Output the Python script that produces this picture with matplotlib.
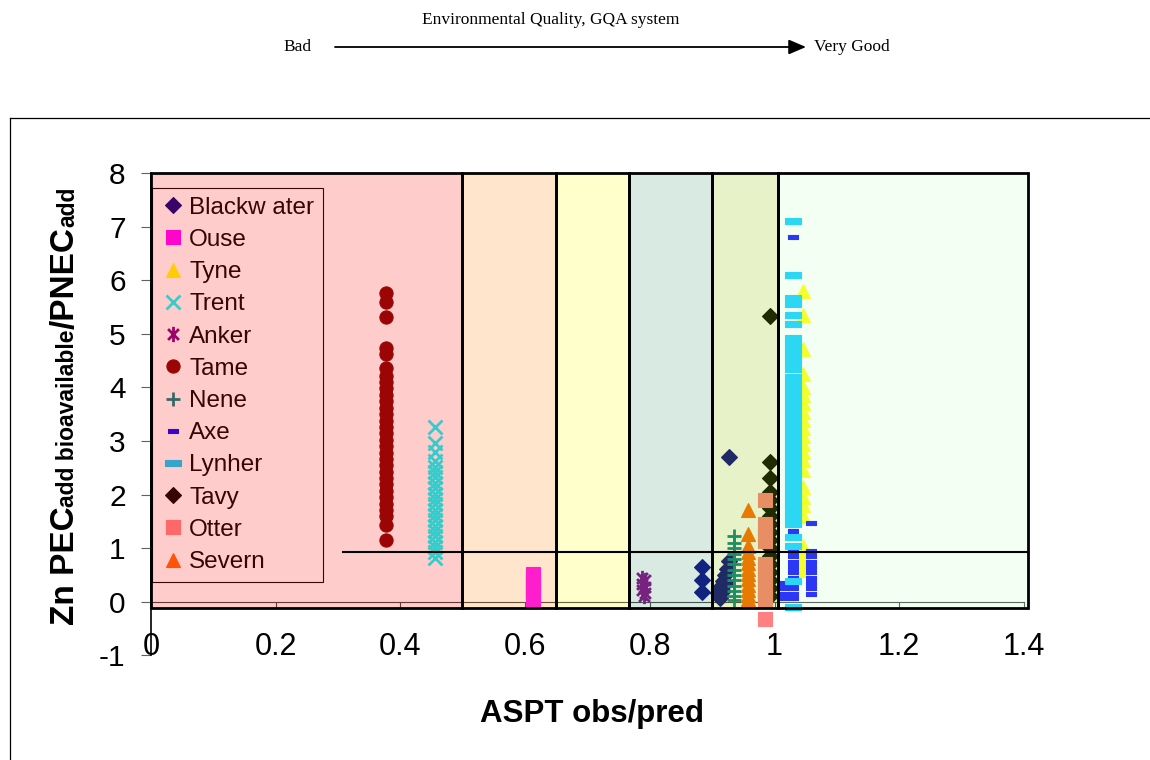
import numpy as np
import matplotlib
matplotlib.use("Agg")
import matplotlib.pyplot as plt
from matplotlib.patches import Rectangle, FancyArrowPatch
from matplotlib.path import Path
from matplotlib.lines import Line2D

plt.rcParams['font.family'] = ['Liberation Sans', 'DejaVu Sans']
plt.rcParams['axes.unicode_minus'] = False

# ---------------- data ----------------
blackwater_x = [0.884, 0.884, 0.884, 0.927, 0.927, 0.924, 0.920, 0.917, 0.913, 0.910, 0.912, 0.918, 0.922]
blackwater_y = [0.65, 0.41, 0.19, 2.70, 0.76, 0.62, 0.50, 0.38, 0.27, 0.16, 0.08, 0.20, 0.35]

ouse_x = 0.612
ouse_y = [0.52, 0.46, 0.40, 0.34, 0.28, 0.22, 0.16, 0.10, 0.06]

tyne_x = 1.045
tyne_y = [5.80, 5.35, 4.72, 4.25, 4.00, 3.85, 3.70, 3.55, 3.40, 3.25, 3.10, 2.95, 2.80,
          2.65, 2.45, 2.15, 1.95, 1.80, 1.60, 1.05, 0.90, 0.75, 0.60]

trent_x = 0.455
trent_y = [3.27, 2.96, 2.80, 2.62, 2.52, 2.42, 2.32, 2.22, 2.12, 2.02, 1.92, 1.82, 1.72,
           1.62, 1.52, 1.42, 1.32, 1.22, 1.12, 1.02, 0.93, 0.82]

anker_x = [0.787, 0.792, 0.787, 0.792, 0.787, 0.792, 0.790]
anker_y = [0.45, 0.40, 0.34, 0.28, 0.22, 0.16, 0.11]

tame_x = 0.377
tame_y = [5.77, 5.60, 5.32, 4.74, 4.63, 4.37, 4.22, 4.10, 3.98, 3.86, 3.74, 3.62, 3.50,
          3.38, 3.26, 3.14, 3.02, 2.90, 2.78, 2.66, 2.56, 2.43, 2.31, 2.19, 2.07, 1.95,
          1.83, 1.71, 1.60, 1.44, 1.16]

nene_x = 0.935
nene_y = [1.22, 1.10, 1.00, 0.90, 0.80, 0.70, 0.60, 0.50, 0.40, 0.30, 0.20, 0.10, 0.03]

axe_x = [1.030, 1.030, 1.030, 1.030, 1.030, 1.030, 1.030, 1.030, 1.030, 1.030, 1.030, 1.030, 1.030,
         1.058, 1.058, 1.058, 1.058, 1.058, 1.058, 1.058, 1.058, 1.058, 1.058,
         1.016, 1.016, 1.016, 1.016]
axe_y = [6.81, 1.44, 1.33, 0.95, 0.85, 0.75, 0.65, 0.55, 0.45, 0.35, 0.25, 0.15, 0.08,
         1.47, 0.95, 0.85, 0.75, 0.65, 0.55, 0.45, 0.35, 0.25, 0.15,
         0.35, 0.25, 0.15, 0.08]

lynher_x = 1.029
lynher_y = [7.10, 6.09, 5.66, 5.55, 5.35, 5.18, 4.93, 4.84, 4.75, 4.64, 4.54, 4.44, 4.34,
            4.19, 4.10, 4.00, 3.91, 3.81, 3.72, 3.62, 3.53, 3.44, 3.36, 3.28, 3.20, 3.12,
            3.04, 2.96, 2.88, 2.80, 2.72, 2.64, 2.56, 2.48, 2.40, 2.32, 2.24, 2.16, 2.08,
            2.00, 1.92, 1.84, 1.76, 1.64, 1.55, 1.46, 1.20, 1.05, 0.39, -0.09]

tavy_x = 0.993
tavy_y = [5.33, 2.61, 2.31, 2.05, 1.90, 1.75, 1.60, 1.45, 1.30, 1.15, 1.00, 0.85, 0.70,
          0.55, 0.40, 0.25, 0.10]

otter_x = 0.984
otter_y = [1.90, 1.45, 1.35, 1.25, 1.14, 0.70, 0.60, 0.50, 0.40, 0.30, 0.20, 0.10, 0.04, -0.33]

severn_x = 0.957
severn_y = [1.72, 1.27, 1.05, 0.92, 0.82, 0.72, 0.62, 0.52, 0.42, 0.32, 0.22, 0.12, 0.05]

zone_edges = [0.0, 0.499, 0.650, 0.766, 0.899, 1.005, 1.406]
zone_colors = [(1.0, 0.09, 0.09), (1.0, 0.54, 0.09), (1.0, 1.0, 0.09),
               (0.31, 0.64, 0.48), (0.59, 0.77, 0.02), (0.80, 1.0, 0.80)]
zone_alpha = 0.22
zone_bottom, zone_top = -0.11, 8.0
threshold_y = 0.93
threshold_x0, threshold_x1 = 0.307, 1.406

x_ticks = [0, 0.2, 0.4, 0.6, 0.8, 1.0, 1.2, 1.4]
x_tick_labels = ["0", "0.2", "0.4", "0.6", "0.8", "1", "1.2", "1.4"]
y_ticks = [-1, 0, 1, 2, 3, 4, 5, 6, 7, 8]

# ---------------- figure ----------------
W, H = 1150, 760
fig = plt.figure(figsize=(W / 100, H / 100), dpi=100)
fig.patch.set_facecolor('white')

def fx(px):
    return px / W

def fy(py):
    return 1 - py / H

x0px, x1px = 151, 151 + 1.4 * 623.5
y_top_px, y_bot_px = 173, 173 + 9 * 53.6
ax = fig.add_axes([fx(x0px), fy(y_bot_px), (x1px - x0px) / W, (y_bot_px - y_top_px) / H])
ax.set_xlim(0, 1.4)
ax.set_ylim(-1, 8)
ax.set_facecolor('white')

# markers
asterisk = Path([(-0.85, -0.85), (0.85, 0.85), (-0.85, 0.85), (0.85, -0.85), (0, -1.2), (0, 1.2)],
                [Path.MOVETO, Path.LINETO, Path.MOVETO, Path.LINETO, Path.MOVETO, Path.LINETO])
short_dash = [(-0.5, -0.2), (0.5, -0.2), (0.5, 0.2), (-0.5, 0.2), (-0.5, -0.2)]
long_dash = [(-0.5, -0.15), (0.5, -0.15), (0.5, 0.15), (-0.5, 0.15), (-0.5, -0.15)]

def as_list(x, y):
    if np.isscalar(x):
        return np.full(len(y), x), y
    return x, y

series = [
    ("Blackw ater", blackwater_x, blackwater_y, dict(marker='D', ms=7.8, color='#000080')),
    ("Ouse", ouse_x, ouse_y, dict(marker='s', ms=9.8, color='#FF00FF')),
    ("Tyne", tyne_x, tyne_y, dict(marker='^', ms=10.5, color='#FFFF00')),
    ("Trent", trent_x, trent_y, dict(marker='x', ms=10, mew=2.0, color='#00FFFF')),
    ("Anker", anker_x, anker_y, dict(marker=asterisk, ms=11, mew=2.0, color='#800080', mfc='none')),
    ("Tame", tame_x, tame_y, dict(marker='o', ms=9.5, color='#800000')),
    ("Nene", nene_x, nene_y, dict(marker='+', ms=10, mew=2.0, color='#008080')),
    ("Axe", axe_x, axe_y, dict(marker=short_dash, ms=7.2, color='#0000FF')),
    ("Lynher", lynher_x, lynher_y, dict(marker=long_dash, ms=12.2, color='#00CCFF')),
    ("Tavy", tavy_x, tavy_y, dict(marker='D', ms=7.8, color='#000000')),
    ("Otter", otter_x, otter_y, dict(marker='s', ms=10.5, color='#FF8080')),
    ("Severn", severn_x, severn_y, dict(marker='^', ms=10.5, color='#FF6600')),
]
for name, xs, ys, st in series:
    xs, ys = as_list(xs, ys)
    kw = dict(linestyle='none', label=name, zorder=3, mew=st.pop('mew', 0.8))
    kw.update(st)
    ax.plot(xs, ys, **kw)

# translucent quality zones drawn on top (as in the original overlay)
for i in range(len(zone_colors)):
    ax.add_patch(Rectangle((zone_edges[i], zone_bottom), zone_edges[i + 1] - zone_edges[i],
                           zone_top - zone_bottom, facecolor=zone_colors[i] + (zone_alpha,),
                           edgecolor='none', zorder=10, clip_on=False))
for i in range(len(zone_colors)):
    ax.add_patch(Rectangle((zone_edges[i], zone_bottom), zone_edges[i + 1] - zone_edges[i],
                           zone_top - zone_bottom, facecolor='none',
                           edgecolor='black', lw=2.0, zorder=11, clip_on=False))
ax.plot([threshold_x0, threshold_x1], [threshold_y, threshold_y], color='black', lw=1.5,
        zorder=12, clip_on=False, solid_capstyle='butt')

# axes styling
for s in ['top', 'right']:
    ax.spines[s].set_visible(False)
ax.spines['bottom'].set_position(('data', 0))
ax.spines['bottom'].set_color('#404040')
ax.spines['bottom'].set_linewidth(0.8)
ax.spines['left'].set_color('black')
ax.spines['left'].set_linewidth(1.2)
ax.set_xticks(x_ticks)
ax.set_xticklabels(x_tick_labels)
ax.set_yticks(y_ticks)
ax.tick_params(axis='x', direction='out', length=3.6, width=0.8, color='#404040',
               labelsize=22, pad=18)
ax.tick_params(axis='y', direction='out', length=7.2, width=0.8, color='#606060',
               labelsize=21.5, pad=11)

leg = ax.legend(loc='upper left', bbox_to_anchor=(0.001, 0.969), borderaxespad=0,
                fontsize=17.5, frameon=True, fancybox=False, edgecolor='black',
                facecolor='white', framealpha=1, borderpad=0.36, labelspacing=0.42,
                handlelength=1.0, handletextpad=0.18, numpoints=1)
leg.get_frame().set_linewidth(0.8)
leg.set_zorder(5)

# header
fig.text(fx(551), fy(20), "Environmental Quality, GQA system", family='Liberation Serif',
         fontsize=12.5, ha='center', va='center')
fig.text(fx(283), fy(47), "Bad", family='Liberation Serif', fontsize=12.5, ha='left', va='center')
fig.text(fx(814), fy(47), "Very Good", family='Liberation Serif', fontsize=12.5, ha='left', va='center')
fig.add_artist(FancyArrowPatch((fx(335), fy(47)), (fx(806), fy(47)), transform=fig.transFigure,
                               arrowstyle='-|>,head_length=0.7,head_width=0.3',
                               mutation_scale=15, lw=1.3, color='black', shrinkA=0, shrinkB=0))

# frame around chart area
fig.add_artist(Line2D([fx(10), 1.0], [fy(118), fy(118)], transform=fig.transFigure,
                      color='black', lw=0.9))
fig.add_artist(Line2D([fx(10), fx(10)], [fy(118), 0.0], transform=fig.transFigure,
                      color='black', lw=0.9))

# axis titles
fig.text(fx(592), fy(714), "ASPT obs/pred", fontsize=22.5, fontweight='bold',
         ha='center', va='center')

renderer = fig.canvas.get_renderer()
pieces = [("Zn PEC", 24), ("add bioavailable", 16.5), ("/PNEC", 24), ("add", 16.5)]
lengths = []
for s, size in pieces:
    t = fig.text(0, 0, s, fontsize=size, fontweight='bold', rotation=90,
                 rotation_mode='anchor', ha='left', va='baseline')
    lengths.append(t.get_window_extent(renderer).height)
    t.remove()
ypos = 406 + sum(lengths) / 2
for (s, size), L in zip(pieces, lengths):
    fig.text(fx(74), fy(ypos), s, fontsize=size, fontweight='bold', rotation=90,
             rotation_mode='anchor', ha='left', va='baseline')
    ypos -= L

fig.savefig("out.png", dpi=100)
